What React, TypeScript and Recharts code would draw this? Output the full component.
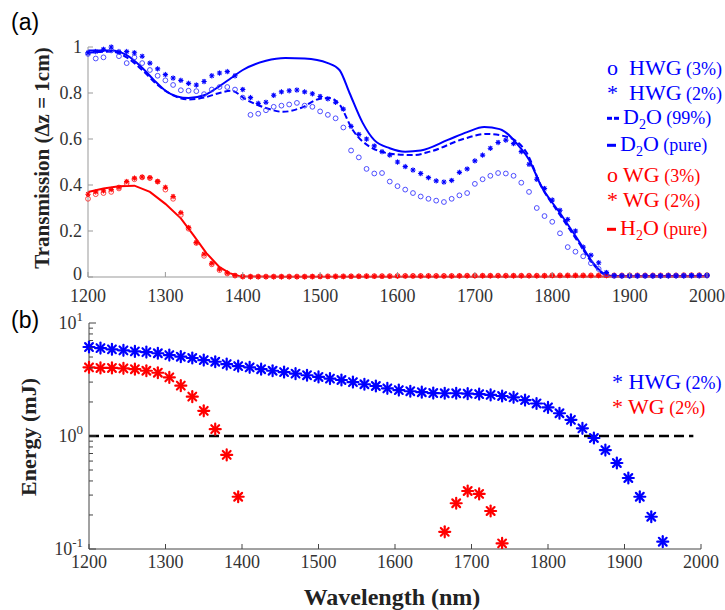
import React from "react";
import { ComposedChart, Line, Scatter, XAxis, YAxis } from "recharts";

const BLUE = "#0000ff";
const RED = "#ff0000";
const SERIF = '"Liberation Serif", "Times New Roman", serif';
const SANS = '"Liberation Sans", Arial, sans-serif';

// ---- panel (a): transmission, sampled every 10 nm ----
const WL_TOP = [
  1200, 1210, 1220, 1230, 1240, 1250, 1260, 1270, 1280, 1290,
  1300, 1310, 1320, 1330, 1340, 1350, 1360, 1370, 1380, 1390,
  1400, 1410, 1420, 1430, 1440, 1450, 1460, 1470, 1480, 1490,
  1500, 1510, 1520, 1530, 1540, 1550, 1560, 1570, 1580, 1590,
  1600, 1610, 1620, 1630, 1640, 1650, 1660, 1670, 1680, 1690,
  1700, 1710, 1720, 1730, 1740, 1750, 1760, 1770, 1780, 1790,
  1800, 1810, 1820, 1830, 1840, 1850, 1860, 1870, 1880, 1890,
  1900, 1910, 1920, 1930, 1940, 1950, 1960, 1970, 1980, 1990, 2000,
];

const HWG3_T = [
  0.97, 0.95, 0.955, 0.985, 0.96, 0.93, 0.955, 0.93, 0.9, 0.875,
  0.855, 0.835, 0.812, 0.81, 0.808, 0.795, 0.815, 0.826, 0.826, 0.815,
  0.78, 0.705, 0.71, 0.725, 0.74, 0.745, 0.75, 0.757, 0.745, 0.74,
  0.72, 0.705, 0.69, 0.65, 0.55, 0.52, 0.47, 0.45, 0.452, 0.415,
  0.395, 0.38, 0.365, 0.35, 0.34, 0.332, 0.326, 0.34, 0.355, 0.365,
  0.405, 0.425, 0.44, 0.452, 0.45, 0.44, 0.41, 0.37, 0.3, 0.265,
  0.24, 0.19, 0.13, 0.11, 0.09, 0.06, 0.035, 0.012, 0.005, 0.005,
  0.005, 0.005, 0.005, 0.005, 0.005, 0.006, 0.006, 0.006, 0.006, 0.006, 0.006,
];

const HWG2_T = [
  0.975, 0.98, 0.99, 1.0, 0.98, 0.98, 0.975, 0.96, 0.93, 0.905,
  0.88, 0.865, 0.855, 0.842, 0.835, 0.85, 0.875, 0.887, 0.893, 0.875,
  0.815, 0.78, 0.755, 0.76, 0.79, 0.805, 0.81, 0.813, 0.805, 0.797,
  0.785, 0.775, 0.76, 0.73, 0.655, 0.62, 0.6, 0.57, 0.545, 0.53,
  0.5, 0.48, 0.465, 0.45, 0.432, 0.418, 0.413, 0.42, 0.455, 0.47,
  0.505, 0.53, 0.56, 0.585, 0.595, 0.58, 0.545, 0.49, 0.425, 0.385,
  0.335, 0.29, 0.25, 0.2, 0.13, 0.095, 0.062, 0.02, 0.006, 0.005,
  0.005, 0.005, 0.005, 0.005, 0.005, 0.005, 0.005, 0.005, 0.006, 0.006, 0.008,
];

const WG3_T = [
  0.34, 0.36, 0.365, 0.37, 0.385, 0.408, 0.425, 0.433, 0.43, 0.415,
  0.38, 0.34, 0.27, 0.21, 0.148, 0.092, 0.055, 0.03, 0.015, 0.006,
  0.002, 0.002, 0.002, 0.002, 0.002, 0.002, 0.002, 0.002, 0.002, 0.002,
  0.003, 0.003, 0.003, 0.003, 0.003, 0.003, 0.004, 0.004, 0.004, 0.004,
  0.005, 0.005, 0.005, 0.005, 0.005, 0.005, 0.005, 0.005, 0.005, 0.006,
  0.006, 0.006, 0.006, 0.006, 0.006, 0.006, 0.006, 0.006, 0.006, 0.006,
  0.007, 0.007, 0.007, 0.007, 0.007, 0.007, 0.007, 0.007, 0.007, 0.007,
  0.007, 0.007, 0.007, 0.007, 0.007, 0.007, 0.007, 0.008, 0.008, 0.008, 0.008,
];

const WG2_T = [
  0.36, 0.37, 0.375, 0.38, 0.39, 0.415, 0.43, 0.435, 0.432, 0.415,
  0.39, 0.35, 0.28, 0.215, 0.15, 0.1, 0.06, 0.035, 0.018, 0.007,
  0.002, 0.001, 0.001, 0.001, 0.001, 0.001, 0.001, 0.001, 0.001, 0.002,
  0.002, 0.002, 0.002, 0.002, 0.003, 0.003, 0.003, 0.003, 0.003, 0.003,
  0.004, 0.004, 0.004, 0.004, 0.004, 0.004, 0.004, 0.004, 0.005, 0.005,
  0.005, 0.005, 0.005, 0.005, 0.005, 0.005, 0.005, 0.005, 0.005, 0.005,
  0.006, 0.006, 0.006, 0.006, 0.006, 0.006, 0.006, 0.006, 0.006, 0.006,
  0.006, 0.006, 0.006, 0.006, 0.006, 0.006, 0.006, 0.006, 0.006, 0.006, 0.006,
];

const D2O_PURE_WL = [
  1200, 1230, 1250, 1270, 1285, 1300, 1315, 1330, 1350, 1370, 1385, 1400, 1430,
  1455, 1480, 1510, 1525, 1538, 1555, 1570, 1590, 1610, 1630, 1665, 1690, 1712,
  1732, 1758, 1770, 1785, 1810, 1836, 1853, 1868, 1880, 2000,
];
const D2O_PURE_T = [
  0.985, 0.985, 0.965, 0.91, 0.857, 0.81, 0.785, 0.778, 0.79, 0.83, 0.865, 0.9, 0.94,
  0.952, 0.95, 0.93, 0.9, 0.8, 0.67, 0.595, 0.56, 0.545, 0.55, 0.596, 0.63, 0.652,
  0.643, 0.565, 0.51, 0.4, 0.278, 0.148, 0.06, 0.012, 0.003, 0.003,
];

const D2O_99_WL = [
  1200, 1230, 1250, 1270, 1290, 1310, 1330, 1350, 1370, 1385, 1405, 1430, 1452,
  1475, 1500, 1513, 1525, 1542, 1564, 1594, 1620, 1642, 1685, 1715, 1741, 1767,
  1785, 1810, 1836, 1853, 1868, 1880, 2000,
];
const D2O_99_T = [
  0.975, 0.98, 0.955, 0.9, 0.835, 0.79, 0.772, 0.78, 0.8, 0.81, 0.77, 0.735, 0.718,
  0.735, 0.775, 0.778, 0.75, 0.64, 0.567, 0.535, 0.53, 0.545, 0.6, 0.622, 0.61, 0.54,
  0.4, 0.27, 0.14, 0.055, 0.01, 0.003, 0.003,
];

const H2O_WL = [1200, 1220, 1240, 1260, 1280, 1300, 1320, 1336, 1353, 1370, 1383, 1396, 1450, 2000];
const H2O_T = [0.37, 0.385, 0.395, 0.397, 0.37, 0.318, 0.255, 0.183, 0.104, 0.043, 0.017, 0.003, 0.001, 0.002];

// ---- panel (b): energy, every 15 nm ----
const WL_BOT = [
  1200, 1215, 1230, 1245, 1260, 1275, 1290, 1305, 1320, 1335,
  1350, 1365, 1380, 1395, 1410, 1425, 1440, 1455, 1470, 1485,
  1500, 1515, 1530, 1545, 1560, 1575, 1590, 1605, 1620, 1635,
  1650, 1665, 1680, 1695, 1710, 1725, 1740, 1755, 1770, 1785,
  1800, 1815, 1830, 1845, 1860, 1875, 1890, 1905, 1920, 1935, 1950,
];
const HWG2_E = [
  6.13, 6.0, 5.85, 5.73, 5.6, 5.53, 5.4, 5.2, 5.03, 4.9,
  4.7, 4.54, 4.33, 4.16, 4.05, 3.9, 3.78, 3.68, 3.56, 3.45,
  3.33, 3.22, 3.13, 3.0, 2.87, 2.77, 2.64, 2.55, 2.49, 2.44,
  2.4, 2.39, 2.39, 2.37, 2.35, 2.31, 2.26, 2.2, 2.08, 1.94,
  1.79, 1.59, 1.39, 1.17, 0.96, 0.75, 0.577, 0.425, 0.29, 0.193, 0.116,
];

const WG2_E_WL = [
  1200, 1215, 1230, 1245, 1260, 1275, 1290, 1305, 1320, 1335, 1350, 1365, 1380, 1395,
  1665, 1680, 1695, 1710, 1725, 1740,
];
const WG2_E = [
  4.05, 4.0, 4.0, 3.97, 3.9, 3.78, 3.63, 3.3, 2.79, 2.23, 1.67, 1.15, 0.68, 0.29,
  0.142, 0.254, 0.326, 0.307, 0.217, 0.112,
];

const THRESH_WL = [1200, 1990];
const THRESH_E = [1, 1];

const WL_TICKS = [1200, 1300, 1400, 1500, 1600, 1700, 1800, 1900, 2000];
const T_TICKS = [0, 0.2, 0.4, 0.6, 0.8, 1];
const E_TICKS = [0.1, 0.2, 0.3, 0.4, 0.5, 0.6, 0.7, 0.8, 0.9, 1, 2, 3, 4, 5, 6, 7, 8, 9, 10];
const E_DECADES: Record<string, string> = { "0.1": "-1", "1": "0", "10": "1" };

const pts = (xs: number[], ys: number[]) => xs.map((x, i) => ({ x, y: ys[i] }));

// markers
const ring = (color: string, r: number) => (p: any) => (
  <circle cx={p.cx} cy={p.cy} r={r} fill="none" stroke={color} strokeWidth={0.9} />
);

const star = (color: string, r: number, w: number) => (p: any) => {
  const d = r * 0.707;
  return (
    <g stroke={color} strokeWidth={w} strokeLinecap="round">
      <line x1={p.cx - r} y1={p.cy} x2={p.cx + r} y2={p.cy} />
      <line x1={p.cx} y1={p.cy - r} x2={p.cx} y2={p.cy + r} />
      <line x1={p.cx - d} y1={p.cy - d} x2={p.cx + d} y2={p.cy + d} />
      <line x1={p.cx - d} y1={p.cy + d} x2={p.cx + d} y2={p.cy - d} />
    </g>
  );
};

// inward ticks
const xTick = (color: string, dy: number) => (p: any) => (
  <g>
    <line x1={p.x} x2={p.x} y1={p.y} y2={p.y - 5} stroke={color} />
    <text x={p.x} y={p.y + dy} textAnchor="middle" fontFamily={SERIF} fontSize={18} fill="#333">
      {p.payload.value}
    </text>
  </g>
);

const tTick = (p: any) => (
  <g>
    <line x1={p.x} x2={p.x + 5} y1={p.y} y2={p.y} stroke="#999" />
    <text x={p.x - 6} y={p.y + (p.payload.value === 0 ? 3 : 6)} textAnchor="end" fontFamily={SERIF} fontSize={18} fill="#333">
      {p.payload.value}
    </text>
  </g>
);

const eTick = (p: any) => {
  const exp = E_DECADES[String(p.payload.value)];
  return (
    <g>
      <line x1={p.x} x2={p.x + (exp ? 7 : 4)} y1={p.y} y2={p.y} stroke="#444" />
      {exp && (
        <text x={p.x - 6} y={p.y + 6} textAnchor="end" fontFamily={SERIF} fontSize={18} fill="#333">
          10
          <tspan dy={-8} fontSize={13}>
            {exp}
          </tspan>
        </text>
      )}
    </g>
  );
};

const abs = (left: number, top: number, extra: React.CSSProperties = {}): React.CSSProperties => ({
  position: "absolute",
  left,
  top,
  whiteSpace: "pre",
  lineHeight: 1,
  ...extra,
});

const Bar = ({ w, color, gap }: { w: number; color: string; gap: number }) => (
  <span style={{ display: "inline-block", width: w, height: 3, background: color, verticalAlign: "middle", marginRight: gap }} />
);

const LegendRow = ({ y, x, color, sym, dash, main, sub, tail }: any) => (
  <div style={abs(x, y, { color, fontFamily: SERIF, fontSize: 22, transform: "translateY(-50%)" })}>
    {dash === 2 && (
      <>
        <Bar w={5} color={color} gap={2} />
        <Bar w={5} color={color} gap={4} />
      </>
    )}
    {dash === 1 && <Bar w={9} color={color} gap={4} />}
    {sym}
    {main}
    {sub && <sub style={{ fontSize: 14 }}>{sub}</sub>}
    {sub && "O"}
    <span style={{ fontSize: 18 }}>{tail}</span>
  </div>
);

export default function App() {
  return (
    <div style={{ position: "absolute", left: 0, top: 0, width: 725, height: 610, background: "#fff" }}>
      <ComposedChart width={725} height={310} margin={{ top: 47, right: 18, left: 0, bottom: 3 }}>
        <XAxis
          type="number"
          dataKey="x"
          domain={[1200, 2000]}
          ticks={WL_TICKS}
          interval={0}
          height={30}
          tickSize={0}
          tickMargin={0}
          axisLine={{ stroke: "#999" }}
          tickLine={false}
          tick={xTick("#999", 25)}
        />
        <YAxis
          type="number"
          dataKey="y"
          domain={[0, 1]}
          ticks={T_TICKS}
          interval={0}
          width={88}
          tickSize={0}
          tickMargin={0}
          axisLine={{ stroke: "#999" }}
          tickLine={false}
          tick={tTick}
        />
        <Scatter data={pts(WL_TOP, WG3_T)} shape={ring("#ff3030", 2.4)} isAnimationActive={false} />
        <Scatter data={pts(WL_TOP, WG2_T)} shape={star(RED, 2.2, 1.1)} isAnimationActive={false} />
        <Scatter data={pts(WL_TOP, HWG3_T)} shape={ring("#3a3aff", 2.4)} isAnimationActive={false} />
        <Scatter data={pts(WL_TOP, HWG2_T)} shape={star(BLUE, 2.2, 1.1)} isAnimationActive={false} />
        <Line data={pts(D2O_99_WL, D2O_99_T)} dataKey="y" type="monotone" stroke={BLUE} strokeWidth={2}
          strokeDasharray="6 3" dot={false} isAnimationActive={false} />
        <Line data={pts(D2O_PURE_WL, D2O_PURE_T)} dataKey="y" type="monotone" stroke={BLUE} strokeWidth={2}
          dot={false} isAnimationActive={false} />
        <Line data={pts(H2O_WL, H2O_T)} dataKey="y" type="linear" stroke={RED} strokeWidth={2}
          dot={false} isAnimationActive={false} />
      </ComposedChart>

      <div style={{ position: "absolute", left: 0, top: 300 }}>
        <ComposedChart width={725} height={310} margin={{ top: 23, right: 24, left: 0, bottom: 31 }}>
          <XAxis
            type="number"
            dataKey="x"
            domain={[1200, 2000]}
            ticks={WL_TICKS}
            interval={0}
            height={30}
            tickSize={0}
            tickMargin={0}
            axisLine={{ stroke: "#444" }}
            tickLine={false}
            tick={xTick("#444", 19)}
          />
          <YAxis
            type="number"
            dataKey="y"
            scale="log"
            domain={[0.1, 10]}
            allowDataOverflow
            ticks={E_TICKS}
            interval={0}
            width={89}
            tickSize={0}
            tickMargin={0}
            axisLine={{ stroke: "#444" }}
            tickLine={false}
            tick={eTick}
          />
          <Line data={pts(THRESH_WL, THRESH_E)} dataKey="y" type="linear" stroke="#000" strokeWidth={2.5}
            strokeDasharray="10 5" dot={false} isAnimationActive={false} />
          <Scatter data={pts(WL_BOT, HWG2_E)} shape={star(BLUE, 5.5, 2.2)} isAnimationActive={false} />
          <Scatter data={pts(WG2_E_WL, WG2_E)} shape={star(RED, 5.5, 2.2)} isAnimationActive={false} />
        </ComposedChart>
      </div>

      {/* panel tags and axis titles */}
      <div style={abs(11, 11, { fontFamily: SANS, fontSize: 23 })}>(a)</div>
      <div style={abs(11, 309, { fontFamily: SANS, fontSize: 23 })}>(b)</div>
      <div style={abs(42, 158, { fontFamily: SERIF, fontSize: 21, fontWeight: "bold", color: "#222",
        transform: "translate(-50%, -50%) rotate(-90deg)" })}>Transmission (Δz = 1cm)</div>
      <div style={abs(29, 437, { fontFamily: SERIF, fontSize: 22, fontWeight: "bold", color: "#222",
        transform: "translate(-50%, -50%) rotate(-90deg)" })}>Energy (mJ)</div>
      <div style={abs(392, 597, { fontFamily: SERIF, fontSize: 24, fontWeight: "bold", color: "#222",
        transform: "translate(-50%, -50%)" })}>Wavelength (nm)</div>

      {/* legend (a) */}
      <LegendRow x={607} y={68} color={BLUE} sym={"o  "} main="HWG" tail=" (3%)" />
      <LegendRow x={607} y={93} color={BLUE} sym={"*  "} main="HWG" tail=" (2%)" />
      <LegendRow x={607} y={119} color={BLUE} dash={2} main="D" sub="2" tail=" (99%)" />
      <LegendRow x={607} y={146} color={BLUE} dash={1} main="D" sub="2" tail=" (pure)" />
      <LegendRow x={607} y={175} color={RED} sym={"o "} main="WG" tail=" (3%)" />
      <LegendRow x={607} y={200} color={RED} sym={"* "} main="WG" tail=" (2%)" />
      <LegendRow x={607} y={230} color={RED} dash={1} main="H" sub="2" tail=" (pure)" />

      {/* legend (b) */}
      <LegendRow x={612} y={382} color={BLUE} sym={"* "} main="HWG" tail=" (2%)" />
      <LegendRow x={612} y={407} color={RED} sym={"* "} main="WG" tail=" (2%)" />
    </div>
  );
}
